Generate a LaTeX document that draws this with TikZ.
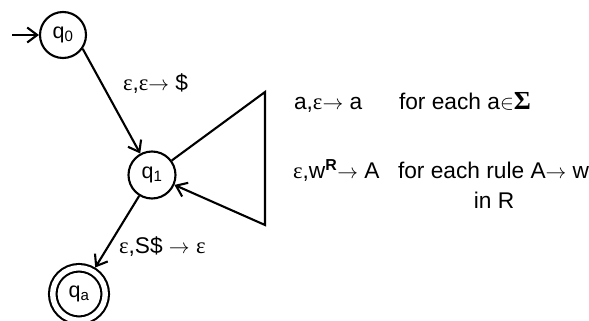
\documentclass[tikz,border=0pt]{standalone}
\usepackage{fontspec}
\setmainfont{Liberation Sans}
\newfontfamily\symf{Liberation Serif}
\usetikzlibrary{arrows.meta}
\tikzset{every picture/.append style={line width=2.1pt}}
\newcommand{\eps}{{\symf ε}}
\newcommand{\tto}{$\rightarrow$}
\tikzset{
  qstate/.style={circle, draw, minimum size=46pt, inner sep=0pt, font=\fontsize{21.5}{25}\selectfont},
  qaccept/.style={qstate, double, double distance=5.4pt, minimum size=52.5pt, outer sep=4.8pt},
  lbl/.style={anchor=base west, inner sep=0pt, font=\fontsize{22.7}{27}\selectfont},
  edge/.style={-{Straight Barb[length=10pt, width=15pt]}}
}

\begin{document}
\begin{tikzpicture}[x=1pt, y=-1pt]
        \useasboundingbox (0,0) rectangle (589,321);

        % States
        \node[qstate] (q0) at (63,35) {q\textsubscript{0}};
        \node[qstate, minimum size=47pt] (q1) at (152,175) {q\textsubscript{1}};
        \node[qaccept] (qa) at (79,294) {q\textsubscript{a}};

        % Start arrow
        \coordinate (start) at (12,35);
        \draw[edge] (start) -- (q0);

        % Transitions
        \draw[edge] (q0.-35) -- (q1);
        \draw[edge] (q1) -- (qa);

        % Loop on q1
        \coordinate (lt) at (265,92);
        \coordinate (lb) at (265,225);
        \draw[edge] (q1) -- (lt) -- (lb) -- (q1);

        % Edge labels
        \node[lbl] (l01) at (122,90) {\eps,\eps\tto{} \$};
        \node[lbl] (l1a) at (118,253) {\eps,S\$ \tto{} \eps};

        % Loop labels
        \node[lbl] (push) at (293,110) {a,\eps\tto{} a};
        \node[lbl] (pushfor) at (398,110) {for each a$\in${\symf\bfseries\fontsize{26}{26}\selectfont Σ}};
        \node[lbl] (rule) at (292,178) {\eps,w\textsuperscript{\textbf{R}}\tto{} A};
        \node[lbl] (rulefor) at (397,178) {for each rule A\tto{} w};
        \node[lbl, anchor=base] (rulein) at (494,208) {in R};
\end{tikzpicture}
\end{document}
